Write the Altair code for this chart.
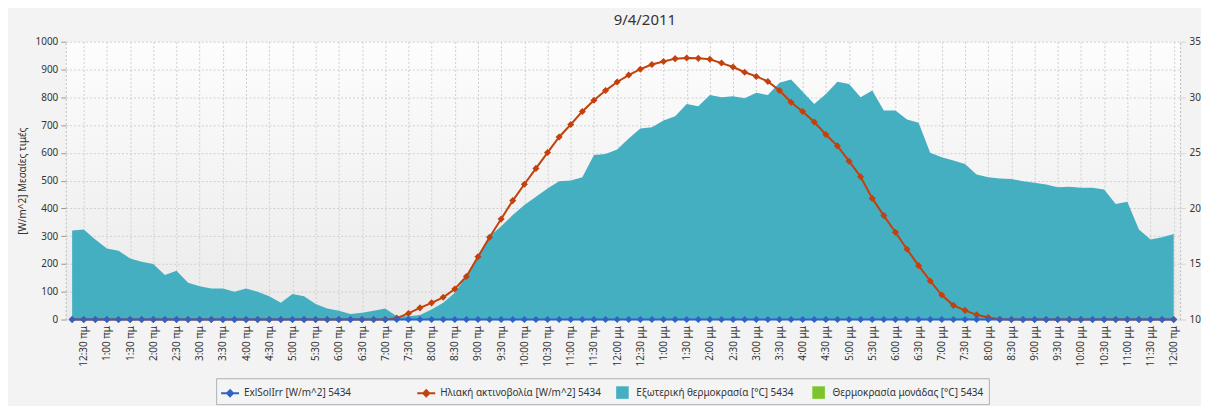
import altair as alt
import pandas as pd

# ---------------- data ----------------
def time_label(minutes):
    h = (minutes // 60) % 24
    m = minutes % 60
    suffix = "πμ" if h < 12 else "μμ"
    h12 = h % 12 or 12
    return f"{h12}:{m:02d} {suffix}"

# 15-minute readings from 00:15 to 24:00
times = [time_label(15 * k) for k in range(1, 97)]
tick_labels = times[1::2]  # every 30 minutes

ext_temp = [
    18.0, 18.1, 17.2, 16.4, 16.2, 15.5, 15.2, 15.0, 14.0, 14.4,
    13.3, 13.0, 12.8, 12.8, 12.5, 12.8, 12.5, 12.1, 11.5, 12.3,
    12.1, 11.4, 11.0, 10.8, 10.5, 10.6, 10.8, 11.0, 10.3, 10.3,
    10.4, 10.9, 11.5, 12.4, 13.9, 15.6, 17.5, 18.4, 19.4, 20.3,
    21.05, 21.8, 22.45, 22.5, 22.8, 24.8, 24.9, 25.3, 26.3, 27.2,
    27.3, 27.9, 28.3, 29.4, 29.2, 30.2, 30.0, 30.1, 29.9, 30.4,
    30.2, 31.3, 31.6, 30.5, 29.4, 30.3, 31.4, 31.2, 30.0, 30.6,
    28.8, 28.8, 28.0, 27.7, 25.0, 24.6, 24.3, 24.0, 23.05, 22.8,
    22.7, 22.65, 22.45, 22.3, 22.15, 21.9, 21.95, 21.85, 21.85, 21.7,
    20.4, 20.6, 18.1, 17.2, 17.4, 17.7,
]

solar_rad = [
    0, 0, 0, 0, 0, 0, 0, 0, 0, 0,
    0, 0, 0, 0, 0, 0, 0, 0, 0, 0,
    0, 0, 0, 0, 0, 0, 0, 0, 5, 22,
    42, 60, 80, 110, 155, 226, 296, 362, 428, 487,
    544, 601, 657, 702, 749, 789, 824, 855, 880, 901,
    918, 929, 939, 941, 940, 937, 923, 909, 890, 875,
    857, 824, 782, 749, 711, 666, 625, 570, 514, 436,
    374, 314, 253, 194, 139, 88, 51, 33, 17, 7,
    1, 0, 0, 0, 0, 0, 0, 0, 0, 0,
    0, 0, 0, 0, 0, 0,
]

exl_sol_irr = [0] * 96

series_names = [
    "ExlSolIrr [W/m^2] 5434",
    "Ηλιακή ακτινοβολία [W/m^2] 5434",
    "Εξωτερική θερμοκρασία [°C] 5434",
    "Θερμοκρασία μονάδας [°C] 5434",
]
series_colors = ["#2F62C4", "#C2410C", "#45AFC2", "#7CC42B"]

left_ticks = list(range(0, 1001, 100))
right_ticks = [10, 15, 20, 25, 30, 35]

df = pd.DataFrame({"time": times, "temp": ext_temp, "rad": solar_rad, "exl": exl_sol_irr})
legend_df = pd.DataFrame({"series": series_names, "time": [times[0]] * 4, "y": [-500] * 4})

# ---------------- styling ----------------
FONT = "Noto Sans"
LINE_SYM = "M-1,-0.12L-0.38,-0.12L0,-0.5L0.38,-0.12L1,-0.12L1,0.12L0.38,0.12L0,0.5L-0.38,0.12L-1,0.12Z"
SQ_SYM = "M-0.7,-0.7L0.7,-0.7L0.7,0.7L-0.7,0.7Z"

x_enc = alt.X(
    "time:O",
    sort=times,
    scale=alt.Scale(type="point", padding=0.55),
    axis=alt.Axis(
        values=tick_labels, labelAngle=-90, title=None, grid=True,
        gridColor="#cfcfcf", gridDash=[2, 2], ticks=False, domain=False,
        labelPadding=6, labelFontSize=10, labelColor="#333333",
    ),
)

left_scale = alt.Scale(domain=[0, 1000], nice=False)
left_axis = alt.Axis(
    orient="left", values=left_ticks, format="d", title="[W/m^2] Μεσαίες τιμές",
    grid=True, gridColor="#cfcfcf", gridDash=[2, 2],
    domainColor="#bbbbbb", domainDash=[2, 2], tickColor="#999999", tickSize=5,
    labelPadding=3, titlePadding=8, titleFontSize=10, titleFontWeight="normal",
    titleColor="#333333", labelColor="#333333", labelFontSize=10,
)

area = alt.Chart(df).mark_area(color="#45AFC2", opacity=1).encode(
    x=x_enc,
    y=alt.Y(
        "temp:Q",
        scale=alt.Scale(domain=[10, 35], nice=False, zero=False),
        axis=alt.Axis(
            orient="right", values=right_ticks, title=None, grid=False,
            domainColor="#bbbbbb", domainDash=[2, 2], tickColor="#bbbbbb",
            tickDash=[1, 1], tickSize=6, labelPadding=3,
            labelColor="#333333", labelFontSize=10,
        ),
    ),
    y2=alt.datum(10),
)

orange_line = alt.Chart(df).mark_line(color="#C2410C", strokeWidth=2).encode(
    x=x_enc, y=alt.Y("rad:Q", scale=left_scale, axis=left_axis)
)
orange_pts = alt.Chart(df).mark_point(
    shape="diamond", filled=True, color="#C2410C", size=50, opacity=1
).encode(x=x_enc, y=alt.Y("rad:Q", scale=left_scale, axis=left_axis))

blue_line = alt.Chart(df).mark_line(color="#2F62C4", strokeWidth=2).encode(
    x=x_enc, y=alt.Y("exl:Q", scale=left_scale, axis=left_axis)
)
blue_pts = alt.Chart(df).mark_point(
    shape="diamond", filled=True, color="#2F62C4", size=50, opacity=1
).encode(x=x_enc, y=alt.Y("exl:Q", scale=left_scale, axis=left_axis))

legend_def = alt.Legend(
    title=None, orient="none", legendX=151, legendY=338, direction="horizontal",
    columns=4, gridAlign="all",
    strokeColor="#a9b0b8", fillColor="#f4f4f4", padding=5, labelFont=FONT,
    labelFontSize=10, labelColor="#333333", symbolSize=324, symbolStrokeWidth=0,
    columnPadding=12, labelOffset=5, labelLimit=300,
)

legend_layer = alt.Chart(legend_df).mark_point(
    filled=True, size=324, opacity=1, clip=True
).encode(
    x=x_enc,
    y=alt.Y("y:Q", scale=left_scale, axis=left_axis),
    color=alt.Color("series:N", scale=alt.Scale(domain=series_names, range=series_colors),
                    legend=legend_def),
    shape=alt.Shape("series:N", scale=alt.Scale(domain=series_names,
                                                range=[LINE_SYM, LINE_SYM, SQ_SYM, SQ_SYM]),
                    legend=legend_def),
)

left_group = alt.layer(orange_line, orange_pts, blue_line, blue_pts, legend_layer)

GRAD = ("{gradient: 'linear', x1: 0, y1: 0, x2: 0, y2: 1, "
        "stops: [{offset: 0, color: '#fdfdfd'}, {offset: 1, color: '#eaeaea'}]}")

chart = (
    alt.layer(area, left_group)
    .resolve_scale(y="independent")
    .properties(
        width=1119,
        height=279,
        padding={"top": 4, "left": 9, "right": 0, "bottom": 0},
        background="#f3f3f3",
        title=alt.TitleParams(
            "9/4/2011", fontSize=15, font=FONT, fontWeight="normal",
            color="#333333", anchor="middle", frame="group", dx=22, offset=9,
        ),
    )
    .configure_view(stroke=None, fill={"expr": GRAD})
    .configure_axis(labelFont=FONT, titleFont=FONT)
)

chart.save("out.html", embed_options={"renderer": "svg", "actions": False})
